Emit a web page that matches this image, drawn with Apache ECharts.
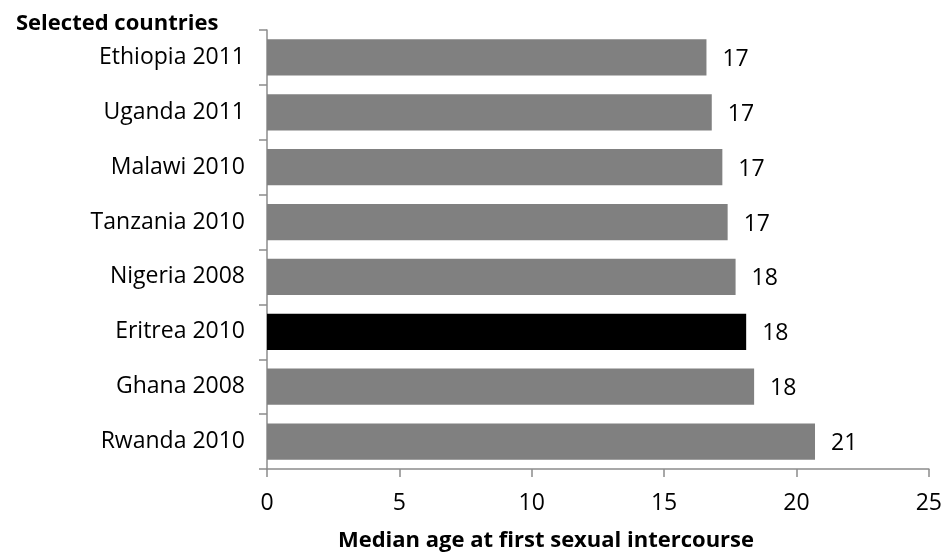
<!DOCTYPE html>
<html>
<head>
<meta charset="utf-8">
<script src="https://cdn.jsdelivr.net/npm/echarts@6/dist/echarts.min.js"></script>
<style>
html,body{margin:0;padding:0;background:#fff;}
#chart{width:945px;height:554px;}
</style>
</head>
<body>
<div id="chart"></div>
<script>
const categories = ['Ethiopia 2011','Uganda 2011','Malawi 2010','Tanzania 2010','Nigeria 2008','Eritrea 2010','Ghana 2008','Rwanda 2010'];
const values = [16.6, 16.8, 17.2, 17.4, 17.7, 18.1, 18.4, 20.7];
const highlight = 'Eritrea 2010';
const xTicks = [0, 5, 10, 15, 20, 25];
const yTitle = 'Selected countries';
const xTitle = 'Median age at first sexual intercourse';

const FONT = "'Open Sans', Lato, sans-serif";
const chart = echarts.init(document.getElementById('chart'), null, {renderer: 'canvas'});
chart.setOption({
  animation: false,
  backgroundColor: '#ffffff',
  title: [
    {text: yTitle, left: 11, top: 8,
     textStyle: {fontFamily: FONT, fontSize: 22, fontWeight: 'bold', color: '#000'}},
    {text: xTitle, left: 541, top: 525, textAlign: 'center',
     textStyle: {fontFamily: FONT, fontSize: 22, fontWeight: 'bold', color: '#000'}}
  ],
  grid: {left: 267, right: 16, top: 30, bottom: 85, containLabel: false},
  xAxis: {
    type: 'value', min: xTicks[0], max: xTicks[xTicks.length-1], interval: xTicks[1]-xTicks[0],
    splitLine: {show: false},
    axisLine: {show: true, lineStyle: {color: '#8c8c8c', width: 1.5}},
    axisTick: {show: true, length: 8, lineStyle: {color: '#8c8c8c', width: 1.5}},
    axisLabel: {margin: 23, fontFamily: FONT, fontSize: 23, color: '#000'}
  },
  yAxis: {
    type: 'category', data: categories, inverse: true,
    axisLine: {show: true, lineStyle: {color: '#8c8c8c', width: 1.5}},
    axisTick: {show: true, length: 8, lineStyle: {color: '#8c8c8c', width: 1.5}},
    axisLabel: {margin: 22, padding: [5, 0, 0, 0], fontFamily: FONT, fontSize: 23, color: '#000'}
  },
  series: [{
    type: 'bar',
    barCategoryGap: '34%',
    data: values.map((v, i) => ({
      value: v,
      itemStyle: {color: categories[i] === highlight ? '#000000' : '#808080'}
    })),
    label: {
      show: true, position: 'right', distance: 16, offset: [0, 2],
      formatter: p => String(Math.round(p.value)),
      fontFamily: FONT, fontSize: 23, color: '#000'
    }
  }]
});
</script>
</body>
</html>
